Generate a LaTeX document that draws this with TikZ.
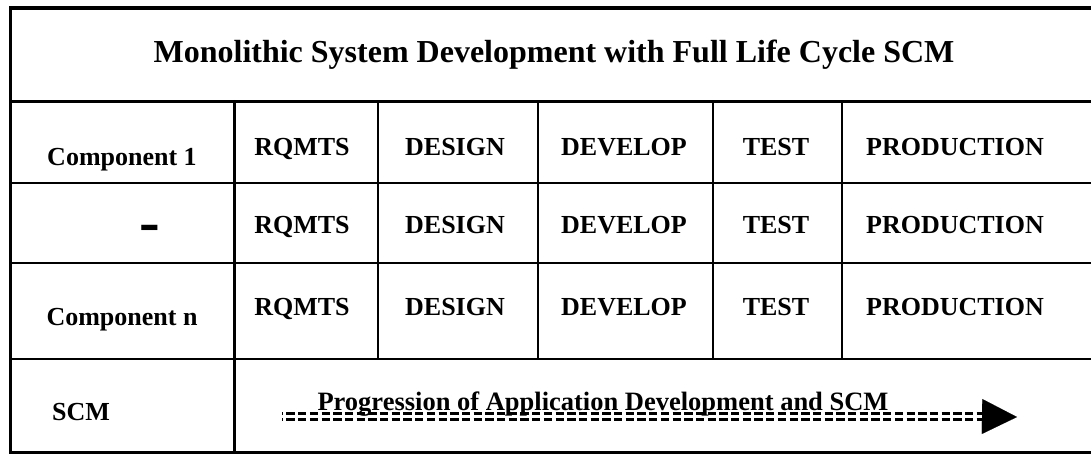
\documentclass[tikz,border=0pt]{standalone}
\usepackage{fontspec}
\setmainfont{Liberation Serif}
\usetikzlibrary{%
  arrows.meta,%
  positioning,% wg. " of "
  calc
}

\begin{document}
\begin{tikzpicture}[
  x=1pt, y=-1pt, font=\bfseries,
  titletext/.style={anchor=base, inner sep=0pt, font=\fontsize{32}{36}\selectfont\bfseries},
  celltext/.style={anchor=base, inner sep=0pt, font=\fontsize{26}{30}\selectfont\bfseries},
  progtext/.style={anchor=base, inner sep=0pt, font=\fontsize{26.5}{30}\selectfont\bfseries},
  frameline/.style={line width=3.5pt},
  thickrule/.style={line width=3pt},
  thinrule/.style={line width=2pt},
  progline/.style={line width=2.5pt, dash pattern=on 8.3pt off 3.4pt, dash phase=7.3pt}
]
\useasboundingbox (0,0) rectangle (1091,455);

% frame and rules
\draw[frameline] (1100,8) -- (10.5,8) -- (10.5,452.5) -- (1100,452.5);
\draw[frameline] (10.5,101.5) -- (1100,101.5);
\draw[thinrule] (10.5,182.5) -- (1100,182.5);
\draw[thinrule] (10.5,262.5) -- (1100,262.5);
\draw[thinrule] (10.5,358.5) -- (1100,358.5);
\draw[thickrule] (234.5,101.5) -- (234.5,452.5);
\draw[thinrule] (378,101.5) -- (378,358.5);
\draw[thinrule] (538,101.5) -- (538,358.5);
\draw[thinrule] (713,101.5) -- (713,358.5);
\draw[thinrule] (842,101.5) -- (842,358.5);

% title
\node[titletext] (title) at (554,62.5) {Monolithic System Development with Full Life Cycle SCM};

% row 1
\node[celltext] (comp1) at (122,165) {Component 1};
\node[celltext] (rq1) at (302,155) {RQMTS};
\node[celltext] (de1) at (455,155) {DESIGN};
\node[celltext] (dv1) at (624,155) {DEVELOP};
\node[celltext] (te1) at (776,155) {TEST};
\node[celltext] (pr1) at (955,155) {PRODUCTION};

% row 2
\node[anchor=base, inner sep=0pt, font=\fontsize{62}{64}\selectfont\bfseries] (compdots) at (149.5,242.5) {-};
\node[celltext] (rq2) at (302,233) {RQMTS};
\node[celltext] (de2) at (455,233) {DESIGN};
\node[celltext] (dv2) at (624,233) {DEVELOP};
\node[celltext] (te2) at (776,233) {TEST};
\node[celltext] (pr2) at (955,233) {PRODUCTION};

% row 3
\node[celltext] (compn) at (122,325) {Component n};
\node[celltext] (rq3) at (302,315) {RQMTS};
\node[celltext] (de3) at (455,315) {DESIGN};
\node[celltext] (dv3) at (624,315) {DEVELOP};
\node[celltext] (te3) at (776,315) {TEST};
\node[celltext] (pr3) at (955,315) {PRODUCTION};

% scm row
\node[celltext] (scm) at (81,420) {SCM};
\node[progtext] (prog) at (603,410) {Progression of Application Development and SCM};
\coordinate (arrstart) at (282,416.5);
\coordinate (arrbase) at (982,416.5);
\coordinate (arrend) at (1017,417);
\draw[progline] ([yshift=2.8pt]arrstart) -- ([yshift=2.8pt]arrbase);
\draw[progline] ([yshift=-2.8pt]arrstart) -- ([yshift=-2.8pt]arrbase);
\draw[line width=0.1pt, -{Triangle[length=35pt,width=35pt]}] (arrbase) -- (arrend);
\end{tikzpicture}
\end{document}
